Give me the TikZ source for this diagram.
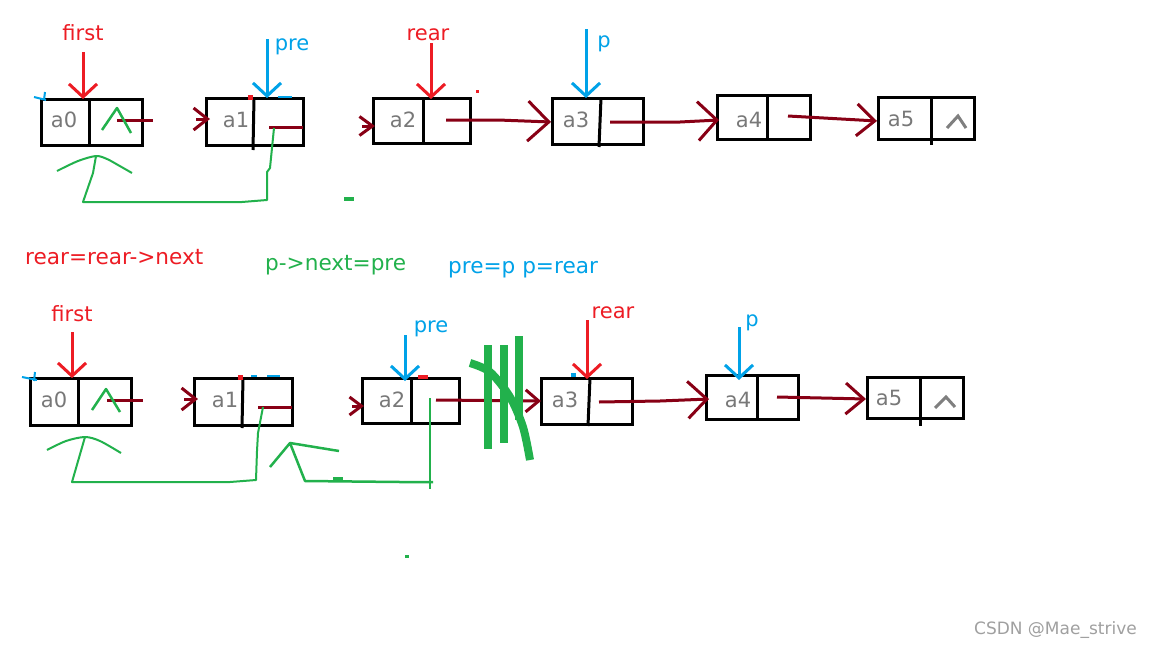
\documentclass[tikz,border=0pt]{standalone}
\usepackage{fontspec}
\setmainfont{DejaVu Sans}
\usetikzlibrary{arrows.meta}
\definecolor{penred}{RGB}{237,28,36}
\definecolor{penblue}{RGB}{0,162,232}
\definecolor{pengreen}{RGB}{34,177,76}
\definecolor{linkred}{RGB}{136,0,21}
\definecolor{valgray}{RGB}{120,120,120}
\definecolor{markgray}{RGB}{127,127,127}
\definecolor{wmgray}{RGB}{160,160,160}

\tikzset{
  cell/.style={draw=black, line width=3pt},
  val/.style={text=valgray, font=\fontsize{21}{25}\selectfont, inner sep=0pt},
  lbl/.style={font=\fontsize{21}{25}\selectfont, anchor=base, inner sep=0pt},
  note/.style={font=\fontsize{21.6}{25}\selectfont, anchor=base west, inner sep=0pt},
  ptr/.style={line width=3pt, -{Straight Barb[length=13pt,width=28pt]}},
  link/.style={draw=linkred, line width=3pt},
  barb/.style 2 args={-{Straight Barb[length=#1,width=#2]}},
  hand/.style={draw=pengreen, line width=2pt, line join=round},
  nilmark/.style={draw=markgray, line width=3pt, line join=miter},
}

\begin{document}
\begin{tikzpicture}[x=1pt, y=-1pt]
\useasboundingbox (0,0) rectangle (1152,648);
\fill[white] (0,0) rectangle (1152,648);

% upper list
\draw[cell] (41,99) rectangle (142,145); \draw[cell] (89,99) -- (89,145);
\node[val] (ua0) at (64,120) {a0};
\draw[cell] (206,98) rectangle (303,145); \draw[cell] (254,98) -- (253,150);
\node[val] (ua1) at (236,120) {a1};
\draw[cell] (373,98) rectangle (470,143); \draw[cell] (423,98) -- (423,145);
\node[val] (ua2) at (403,120) {a2};
\draw[cell] (552,98) rectangle (643,144); \draw[cell] (601,98) -- (599,147);
\node[val] (ua3) at (576,120) {a3};
\draw[cell] (717,95) rectangle (810,139); \draw[cell] (767,95) -- (767,139);
\node[val] (ua4) at (749,120) {a4};
\draw[cell] (878,97) rectangle (974,139); \draw[cell] (931,97) -- (931,145);
\node[val] (ua5) at (901,119) {a5};
\draw[nilmark] (947,128) -- (958,116) -- (966,128);

\node[lbl, text=penred] (ufirst) at (83,40) {first};
\node[lbl, text=penblue] (upre) at (292,50) {pre};
\node[lbl, text=penred] (urear) at (428,40) {rear};
\node[lbl, text=penblue] (up) at (604,47) {p};
\draw[ptr, penred] (83,52) -- (83,99);
\draw[ptr, penblue] (267,39) -- (267,98);
\draw[ptr, penred] (431,43) -- (431,99);
\draw[ptr, penblue] (586,29) -- (586,98);

\draw[link] (117,120) -- (153,120);
\draw[link, barb={14pt}{22pt}] (196,119) -- (210,119);
\draw[link] (269,127) -- (303,127);
\draw[link, barb={13pt}{19pt}] (362,126) -- (375,126);
\draw[link, barb={21pt}{40pt}] (446,120) -- (498,120) -- (551,122);
\draw[link, barb={19pt}{39pt}] (610,122) -- (680,122) -- (719,120);
\draw[link, barb={18pt}{32pt}] (788,116) -- (877,121);

\draw[hand, line width=2.5pt] (102,130) -- (117,108) -- (131,133);
\draw[hand] (274,128) -- (270,168) -- (267,172) -- (267,200) -- (242,202) -- (83,202) -- (93,173) -- (96,156);
\draw[hand] plot[smooth] coordinates {(57,171) (78,161) (96,156) (107,159) (118,165) (132,173)};
\fill[pengreen] (344,197) rectangle (354,201);

\draw[penblue, line width=2pt] (34,97) -- (46,100) (45,92) -- (44,100);
\fill[penred] (248,95) rectangle (253,100);
\draw[penblue, line width=2pt] (278,97) -- (292,97);
\fill[penred] (476,90) rectangle (479,93);

% middle notes
\node[note, text=penred] (note1) at (25,264) {rear=rear->next};
\node[note, text=pengreen] (note2) at (265,270) {p->next=pre};
\node[note, text=penblue] (note3) at (448,273) {pre=p p=rear};

% lower list
\draw[cell] (30,378) rectangle (131,425); \draw[cell] (78,378) -- (78,425);
\node[val] (la0) at (54,400) {a0};
\draw[cell] (194,378) rectangle (292,425); \draw[cell] (243,378) -- (242,428);
\node[val] (la1) at (225,400) {a1};
\draw[cell] (362,378) rectangle (459,423); \draw[cell] (411,378) -- (411,425);
\node[val] (la2) at (392,400) {a2};
\draw[cell] (541,378) rectangle (632,424); \draw[cell] (590,378) -- (588,426);
\node[val] (la3) at (565,400) {a3};
\draw[cell] (706,375) rectangle (798,419); \draw[cell] (757,375) -- (757,419);
\node[val] (la4) at (738,400) {a4};
\draw[cell] (867,377) rectangle (963,418); \draw[cell] (920,377) -- (920,426);
\node[val] (la5) at (889,398) {a5};
\draw[nilmark] (935,408) -- (946,397) -- (955,407);

\node[lbl, text=penred] (lfirst) at (72,321) {first};
\node[lbl, text=penblue] (lpre) at (431,332) {pre};
\node[lbl, text=penred] (lrear) at (613,318) {rear};
\node[lbl, text=penblue] (lp) at (752,326) {p};
\draw[ptr, penred] (72,332) -- (72,378);
\draw[ptr, penblue] (405,335) -- (405,381);
\draw[ptr, penred] (587,320) -- (587,379);
\draw[ptr, penblue] (739,327) -- (739,380);

\draw[link] (107,400) -- (143,400);
\draw[link, barb={14pt}{22pt}] (184,399) -- (198,399);
\draw[link] (258,407) -- (292,407);
\draw[link, barb={12pt}{18pt}] (352,406) -- (364,406);
\draw[link, barb={13pt}{22pt}] (436,400) -- (541,401);
\draw[link, barb={19pt}{37pt}] (599,402) -- (660,401) -- (709,399);
\draw[link, barb={18pt}{31pt}] (777,397) -- (866,399);

\draw[hand, line width=2.5pt] (92,410) -- (106,389) -- (120,412);
\draw[hand] (263,407) -- (258,433) -- (257,451) -- (256,480) -- (230,482) -- (72,482) -- (85,437);
\draw[hand] plot[smooth] coordinates {(47,450) (66,441) (85,437) (100,441) (121,453)};
\draw[hand, line width=2.5pt] (430,398) -- (430,489);
\draw[hand, line width=2.5pt] (433,482) -- (400,482) -- (305,481) -- (290,443) -- (270,467);
\draw[hand, line width=2.5pt] (290,443) -- (339,451);
\fill[pengreen] (333,477) rectangle (343,482);
\fill[pengreen] (405,555) rectangle (409,558);

% crossed-out link
\fill[pengreen] (484,345) rectangle (492,449);
\fill[pengreen] (500,345) rectangle (508,443);
\draw[pengreen, line width=8pt] (519,336) -- (519,420);
\draw[pengreen, line width=8pt] plot[smooth] coordinates {(470,363) (490,372) (510,397) (523,427) (530,460)};

\draw[penblue, line width=2pt] (22,377) -- (37,380) (35,372) -- (34,381);
\fill[penred] (238,375) rectangle (243,380);
\draw[penblue, line width=2pt] (251,376) -- (257,376) (267,376) -- (280,376);
\fill[penred] (418,375) rectangle (428,379);
\fill[penblue] (571,373) rectangle (576,377);

\node[font=\fontsize{17}{20}\selectfont, text=wmgray, anchor=base east, inner sep=0pt] (mark) at (1137,634) {CSDN @Mae\_strive};
\end{tikzpicture}
\end{document}
